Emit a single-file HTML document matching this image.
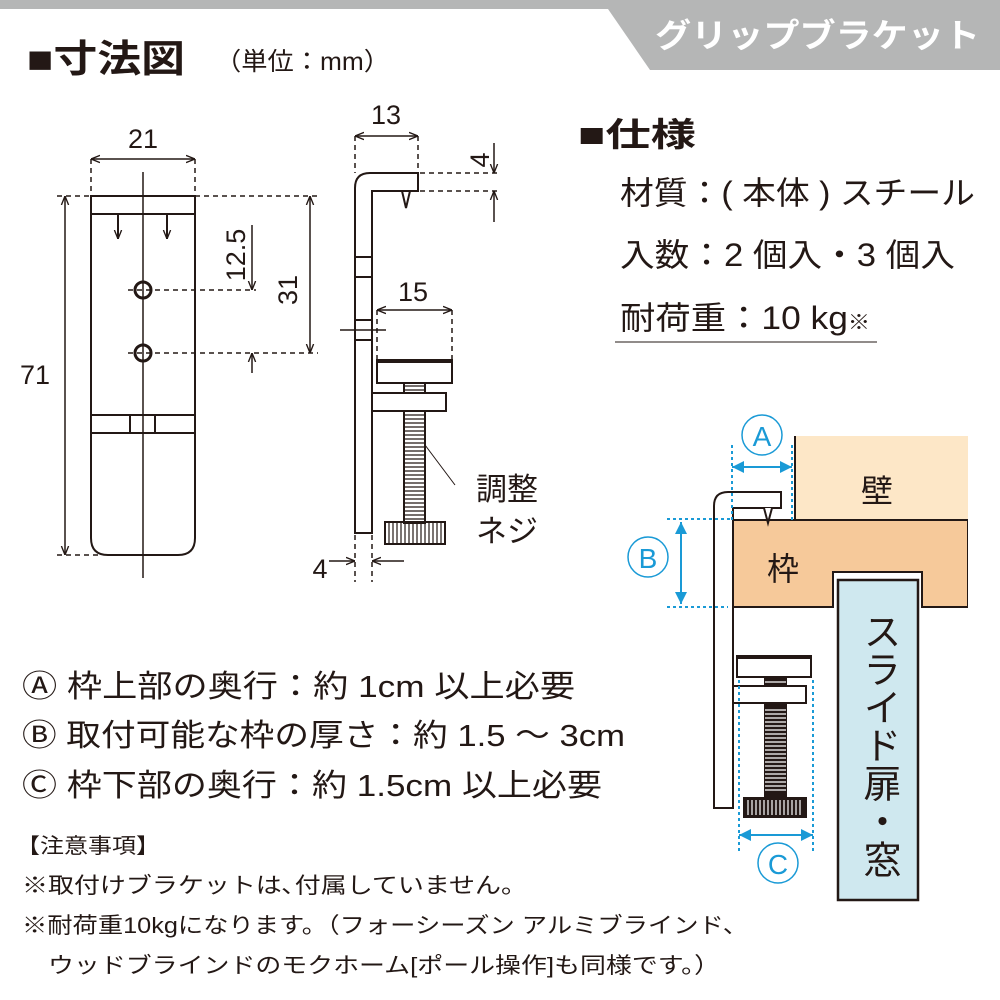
<!DOCTYPE html>
<html><head><meta charset="utf-8"><style>
html,body{margin:0;padding:0;background:#fff;}
svg{display:block;}
text{font-family:"Liberation Sans","Noto Sans CJK JP",sans-serif;fill:#231815;}
</style></head><body>
<svg width="1000" height="1000" viewBox="0 0 1000 1000" xmlns="http://www.w3.org/2000/svg">
<defs>
<marker id="ar" viewBox="0 0 10 10" refX="10" refY="5" markerWidth="9" markerHeight="9" orient="auto-start-reverse" markerUnits="userSpaceOnUse"><path d="M0,1 L10,5 L0,9" fill="none" stroke="#231815" stroke-width="1.5"/></marker>
<marker id="ab" viewBox="0 0 10 10" refX="10" refY="5" markerWidth="12" markerHeight="12" orient="auto-start-reverse" markerUnits="userSpaceOnUse"><path d="M0,0 L10,5 L0,10 Z" fill="#1a9ad6"/></marker>
</defs>
<!-- header -->
<rect x="0" y="0" width="1000" height="9" fill="#b5b6b6"/>
<polygon points="608,9 1000,9 1000,70 650,70" fill="#b5b6b6"/>
<text x="655" y="47" font-size="33" font-weight="bold" style="fill:#fff" textLength="325" lengthAdjust="spacingAndGlyphs">グリップブラケット</text>
<text x="27" y="72" font-size="38" font-weight="bold" textLength="158" lengthAdjust="spacingAndGlyphs">■寸法図</text>
<text x="215" y="70" font-size="25" textLength="175" lengthAdjust="spacingAndGlyphs">（単位：mm）</text>

<g stroke="#231815" stroke-width="2" fill="none">
<path d="M91,196 H195 V538 Q195,555 178,555 H108 Q91,555 91,538 Z"/>
<line x1="91" y1="214" x2="195" y2="214"/>
<line x1="91" y1="415" x2="195" y2="415"/>
<line x1="91" y1="433" x2="195" y2="433"/>
<rect x="130" y="415" width="25" height="18"/>
<line x1="143" y1="172" x2="143" y2="578" stroke-width="1.5"/>
<circle cx="143" cy="290" r="8" stroke-width="3"/>
<circle cx="143" cy="353" r="8" stroke-width="3"/>
<line x1="118" y1="214" x2="118" y2="239" marker-end="url(#ar)"/>
<line x1="167" y1="214" x2="167" y2="239" marker-end="url(#ar)"/>
<g stroke-dasharray="5,4" stroke-width="1.5">
<line x1="91" y1="159" x2="91" y2="196"/><line x1="195" y1="159" x2="195" y2="196"/>
<line x1="57" y1="196" x2="91" y2="196"/><line x1="195" y1="196" x2="318" y2="196"/>
<line x1="57" y1="555" x2="100" y2="555"/>
<line x1="128" y1="290" x2="256" y2="290"/><line x1="128" y1="353" x2="318" y2="353"/>
</g>
<line x1="91" y1="159" x2="195" y2="159" stroke-width="1.5" marker-start="url(#ar)" marker-end="url(#ar)"/>
<line x1="65" y1="196" x2="65" y2="555" stroke-width="1.5" marker-start="url(#ar)" marker-end="url(#ar)"/>
<line x1="310" y1="196" x2="310" y2="353" stroke-width="1.5" marker-start="url(#ar)" marker-end="url(#ar)"/>
<line x1="252" y1="225" x2="252" y2="290" stroke-width="1.5" marker-end="url(#ar)"/>
<line x1="252" y1="373" x2="252" y2="353" stroke-width="1.5" marker-end="url(#ar)"/>

<path d="M355,533 V188 Q355,173 370,173 H418 V191 H372 V533 Z"/>
<path d="M402,191 L406,208 L410,191"/>
<line x1="355" y1="257" x2="372" y2="257"/><line x1="355" y1="277" x2="372" y2="277"/>
<line x1="355" y1="320" x2="372" y2="320"/><line x1="355" y1="340" x2="372" y2="340"/>
<line x1="340" y1="330" x2="386" y2="330" stroke-width="1.5"/>
<rect x="377" y="360" width="75" height="23"/>
<line x1="377" y1="361" x2="452" y2="361" stroke-width="4"/>
<path d="M372,393 H446 V411 H372"/>
<rect x="404" y="383" width="21" height="10"/>
<rect x="404" y="411" width="21" height="112"/>
<rect x="385" y="522" width="60" height="22"/>
<line x1="425" y1="445" x2="455" y2="485" stroke-width="1"/>
<g stroke-dasharray="5,4" stroke-width="1.5">
<line x1="355" y1="136" x2="355" y2="173"/><line x1="418" y1="136" x2="418" y2="173"/>
<line x1="420" y1="173" x2="500" y2="173"/><line x1="420" y1="191" x2="500" y2="191"/>
<line x1="377" y1="310" x2="377" y2="360"/><line x1="452" y1="310" x2="452" y2="360"/>
<line x1="355" y1="535" x2="355" y2="582"/><line x1="372" y1="535" x2="372" y2="582"/>
</g>
<line x1="355" y1="136" x2="418" y2="136" stroke-width="1.5" marker-start="url(#ar)" marker-end="url(#ar)"/>
<line x1="377" y1="310" x2="452" y2="310" stroke-width="1.5" marker-start="url(#ar)" marker-end="url(#ar)"/>
<line x1="494" y1="143" x2="494" y2="173" stroke-width="1.5" marker-end="url(#ar)"/>
<line x1="494" y1="222" x2="494" y2="191" stroke-width="1.5" marker-end="url(#ar)"/>
<line x1="329" y1="561" x2="355" y2="561" stroke-width="1.5" marker-end="url(#ar)"/>
<line x1="404" y1="561" x2="372" y2="561" stroke-width="1.5" marker-end="url(#ar)"/>
</g>
<g stroke="#231815" stroke-width="1.2">
<path d="M404,386 H425 M404,390 H425 M404,415 H425 M404,419 H425 M404,423 H425 M404,427 H425 M404,431 H425 M404,435 H425 M404,439 H425 M404,443 H425 M404,447 H425 M404,451 H425 M404,455 H425 M404,459 H425 M404,463 H425 M404,467 H425 M404,471 H425 M404,475 H425 M404,479 H425 M404,483 H425 M404,487 H425 M404,491 H425 M404,495 H425 M404,499 H425 M404,503 H425 M404,507 H425 M404,511 H425 M404,515 H425 M404,519 H425"/>
<path d="M389,522 V544 M393,522 V544 M397,522 V544 M401,522 V544 M405,522 V544 M409,522 V544 M413,522 V544 M417,522 V544 M421,522 V544 M425,522 V544 M429,522 V544 M433,522 V544 M437,522 V544 M441,522 V544"/>
</g>
<text x="143" y="148" font-size="27" text-anchor="middle">21</text>
<text x="35" y="384" font-size="27" text-anchor="middle">71</text>
<text transform="translate(297,290) rotate(-90)" font-size="27" text-anchor="middle">31</text>
<text transform="translate(245,255) rotate(-90)" font-size="27" text-anchor="middle">12.5</text>
<text x="386" y="124" font-size="27" text-anchor="middle">13</text>
<text x="413" y="301" font-size="27" text-anchor="middle">15</text>
<text transform="translate(489,160) rotate(-90)" font-size="27" text-anchor="middle">4</text>
<text x="320" y="578" font-size="27" text-anchor="middle">4</text>
<text x="476" y="500" font-size="31">調整</text>
<text x="476" y="542" font-size="31">ネジ</text>

<text x="578" y="146" font-size="33" font-weight="bold" textLength="118" lengthAdjust="spacingAndGlyphs">■仕様</text>
<text x="620" y="204" font-size="32" textLength="355" lengthAdjust="spacingAndGlyphs">材質：( 本体 ) スチール</text>
<text x="620" y="266" font-size="32" textLength="335" lengthAdjust="spacingAndGlyphs">入数：2 個入・3 個入</text>
<text x="620" y="329" font-size="32" textLength="250" lengthAdjust="spacingAndGlyphs">耐荷重：10 kg<tspan font-size="20">※</tspan></text>
<line x1="615" y1="342" x2="877" y2="342" stroke="#231815" stroke-width="1"/>

<rect x="795" y="436" width="173" height="84" fill="#fde7c7"/>
<line x1="795" y1="436" x2="795" y2="520" stroke="#231815" stroke-width="2"/>
<path d="M733,520 H968 V607 H922 V572 H833 V607 H733 Z" fill="#f6c99a" stroke="#231815" stroke-width="2"/>
<rect x="968" y="519" width="4" height="90" fill="#fff"/>
<rect x="838" y="580" width="80" height="320" fill="#cfe8ef" stroke="#231815" stroke-width="2.5"/>
<text x="878" y="612" font-size="38" style="writing-mode:vertical-rl">スライド扉・窓</text>
<text x="877" y="502" font-size="32" text-anchor="middle">壁</text>
<text x="783" y="580" font-size="32" text-anchor="middle">枠</text>
<g stroke="#231815" stroke-width="2" fill="#fff">
<path d="M714,808 V506 Q714,492 728,492 H781 V508 H733 V808 Z"/>
<path d="M764,508 L768,523 L772,508"/>
<rect x="737" y="656" width="74" height="21"/>
<line x1="737" y1="657" x2="811" y2="657" stroke-width="4"/>
<rect x="765" y="677" width="21" height="121" fill="#231815"/>
<rect x="733" y="686" width="73" height="17"/>
<rect x="744" y="798" width="62" height="19" fill="#231815"/>
</g>
<g stroke="#fff" stroke-width="1.2">
<path d="M765,682 H786 M765,710 H786 M765,714 H786 M765,718 H786 M765,722 H786 M765,726 H786 M765,730 H786 M765,734 H786 M765,738 H786 M765,742 H786 M765,746 H786 M765,750 H786 M765,754 H786 M765,758 H786 M765,762 H786 M765,766 H786 M765,770 H786 M765,774 H786 M765,778 H786 M765,782 H786 M765,786 H786 M765,790 H786"/>
<path d="M748,800 V815 M752,800 V815 M756,800 V815 M760,800 V815 M764,800 V815 M768,800 V815 M772,800 V815 M776,800 V815 M780,800 V815 M784,800 V815 M788,800 V815 M792,800 V815 M796,800 V815 M800,800 V815"/>
</g>
<g stroke="#1a9ad6" stroke-width="2" fill="none">
<g stroke-dasharray="3,3">
<line x1="732" y1="445" x2="732" y2="520"/><line x1="792" y1="445" x2="792" y2="520"/>
<line x1="667" y1="519" x2="730" y2="519"/><line x1="667" y1="607" x2="728" y2="607"/>
<line x1="739" y1="680" x2="739" y2="852"/><line x1="813" y1="680" x2="813" y2="852"/>
</g>
<line x1="732" y1="467" x2="792" y2="467" marker-start="url(#ab)" marker-end="url(#ab)"/>
<line x1="681" y1="522" x2="681" y2="604" marker-start="url(#ab)" marker-end="url(#ab)"/>
<line x1="739" y1="835" x2="813" y2="835" marker-start="url(#ab)" marker-end="url(#ab)"/>
<circle cx="762" cy="435" r="20" stroke-width="1.5"/>
<circle cx="648" cy="557" r="20" stroke-width="1.5"/>
<circle cx="778" cy="863" r="20" stroke-width="1.5"/>
</g>
<text x="762" y="446" font-size="28" text-anchor="middle" style="fill:#1a9ad6">A</text>
<text x="648" y="568" font-size="28" text-anchor="middle" style="fill:#1a9ad6">B</text>
<text x="778" y="874" font-size="28" text-anchor="middle" style="fill:#1a9ad6">C</text>

<text x="22" y="697" font-size="31" textLength="553" lengthAdjust="spacingAndGlyphs">Ⓐ 枠上部の奥行：約 1cm 以上必要</text>
<text x="22" y="746" font-size="31" textLength="603" lengthAdjust="spacingAndGlyphs">Ⓑ 取付可能な枠の厚さ：約 1.5 ～ 3cm</text>
<text x="22" y="796" font-size="31" textLength="580" lengthAdjust="spacingAndGlyphs">Ⓒ 枠下部の奥行：約 1.5cm 以上必要</text>
<text x="16" y="853" font-size="21" textLength="144" lengthAdjust="spacingAndGlyphs">【注意事項】</text>
<text x="22" y="893" font-size="22" textLength="505" lengthAdjust="spacingAndGlyphs">※取付けブラケットは､付属していません。</text>
<text x="22" y="933" font-size="22" textLength="726" lengthAdjust="spacingAndGlyphs">※耐荷重10kgになります。（フォーシーズン アルミブラインド、</text>
<text x="48" y="973" font-size="22" textLength="672" lengthAdjust="spacingAndGlyphs">ウッドブラインドのモクホーム[ポール操作]も同様です。）</text>
</svg>
</body></html>
